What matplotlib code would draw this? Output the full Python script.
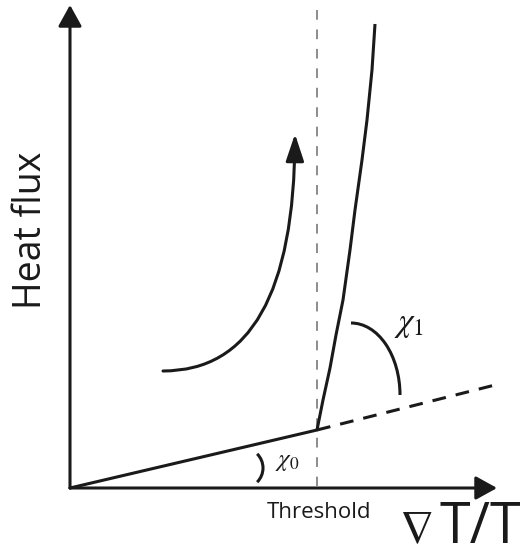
import matplotlib
matplotlib.use("Agg")
import matplotlib.pyplot as plt
from matplotlib.patches import FancyArrowPatch, Arc
from matplotlib.path import Path

plt.rcParams['mathtext.fontset'] = 'stix'

# Schematic geometry (pixel-space data)
origin = (70, 488)
y_axis_top = (70, 5)
x_axis_end = (497, 488)
threshold_x = 317
threshold_y_top = 10

# linear regime below threshold
low_x = [70, 317]
low_y = [488, 430]

# steep regime above threshold
high_x = [317, 323, 330, 336, 343, 350, 355, 362, 367, 372, 375]
high_y = [430, 400, 368, 335, 300, 250, 210, 160, 120, 70, 24]

# dashed continuation of low slope
ext_x = [317, 495]
ext_y = [430, 385]

# curved arrow (start, control, end)
curve_pts = [(163, 371), (294, 371), (295, 134)]

fig = plt.figure(figsize=(5.24, 5.50), dpi=100)
ax = fig.add_axes([0, 0, 1, 1])
ax.set_xlim(0, 524)
ax.set_ylim(550, 0)
ax.axis('off')

lw = 2.2
ink = '#1a1a1a'
# axes with arrows
for end in (y_axis_top, x_axis_end):
    ax.add_patch(FancyArrowPatch(origin, end,
                                 arrowstyle='-|>,head_length=1.3,head_width=0.72',
                                 mutation_scale=10, lw=lw, color=ink,
                                 shrinkA=0, shrinkB=0))

# threshold dashed line
ax.plot([threshold_x, threshold_x], [threshold_y_top, origin[1]],
        color='#8c8c8c', lw=1.4, dashes=(5, 5))

ax.plot(low_x, low_y, color=ink, lw=lw, solid_capstyle='round')
ax.plot(high_x, high_y, color=ink, lw=lw, solid_capstyle='butt')
ax.plot(ext_x, ext_y, color=ink, lw=lw, dashes=(4.5, 3.3))

# curved arrow
path = Path(curve_pts, [Path.MOVETO, Path.CURVE3, Path.CURVE3])
ax.add_patch(FancyArrowPatch(path=path,
                             arrowstyle='-|>,head_length=1.65,head_width=0.55',
                             mutation_scale=10, lw=lw, color=ink,
                             shrinkA=0, shrinkB=0))

# angle arcs
ax.add_patch(Arc((351, 395), 98, 144, theta1=270, theta2=360,
                 lw=lw, color=ink))
ax.add_patch(Arc((243, 468), 40, 40, theta1=-45, theta2=45,
                 lw=lw, color=ink))

# labels
ax.text(287, 461, r'$\chi_0$', fontsize=18, ha='center', va='center', color=ink)
ax.text(409, 324, r'$\chi_1$', fontsize=24, ha='center', va='center', color=ink)
ax.text(319, 513, 'Threshold', fontsize=16, ha='center', va='center',
        family=['Open Sans', 'DejaVu Sans'], color=ink)
ax.text(416, 543, r'$\nabla$', fontsize=34, ha='center', va='baseline',
        math_fontfamily='stixsans', color=ink)
ax.text(480, 543, 'T/T', fontsize=40, ha='center', va='baseline',
        family=['Open Sans', 'DejaVu Sans'], color=ink)
ax.text(31, 230, 'Heat flux', fontsize=27, ha='center', va='center', rotation=90,
        family=['Open Sans', 'DejaVu Sans'], color=ink)

fig.savefig('out.png', dpi=100)
